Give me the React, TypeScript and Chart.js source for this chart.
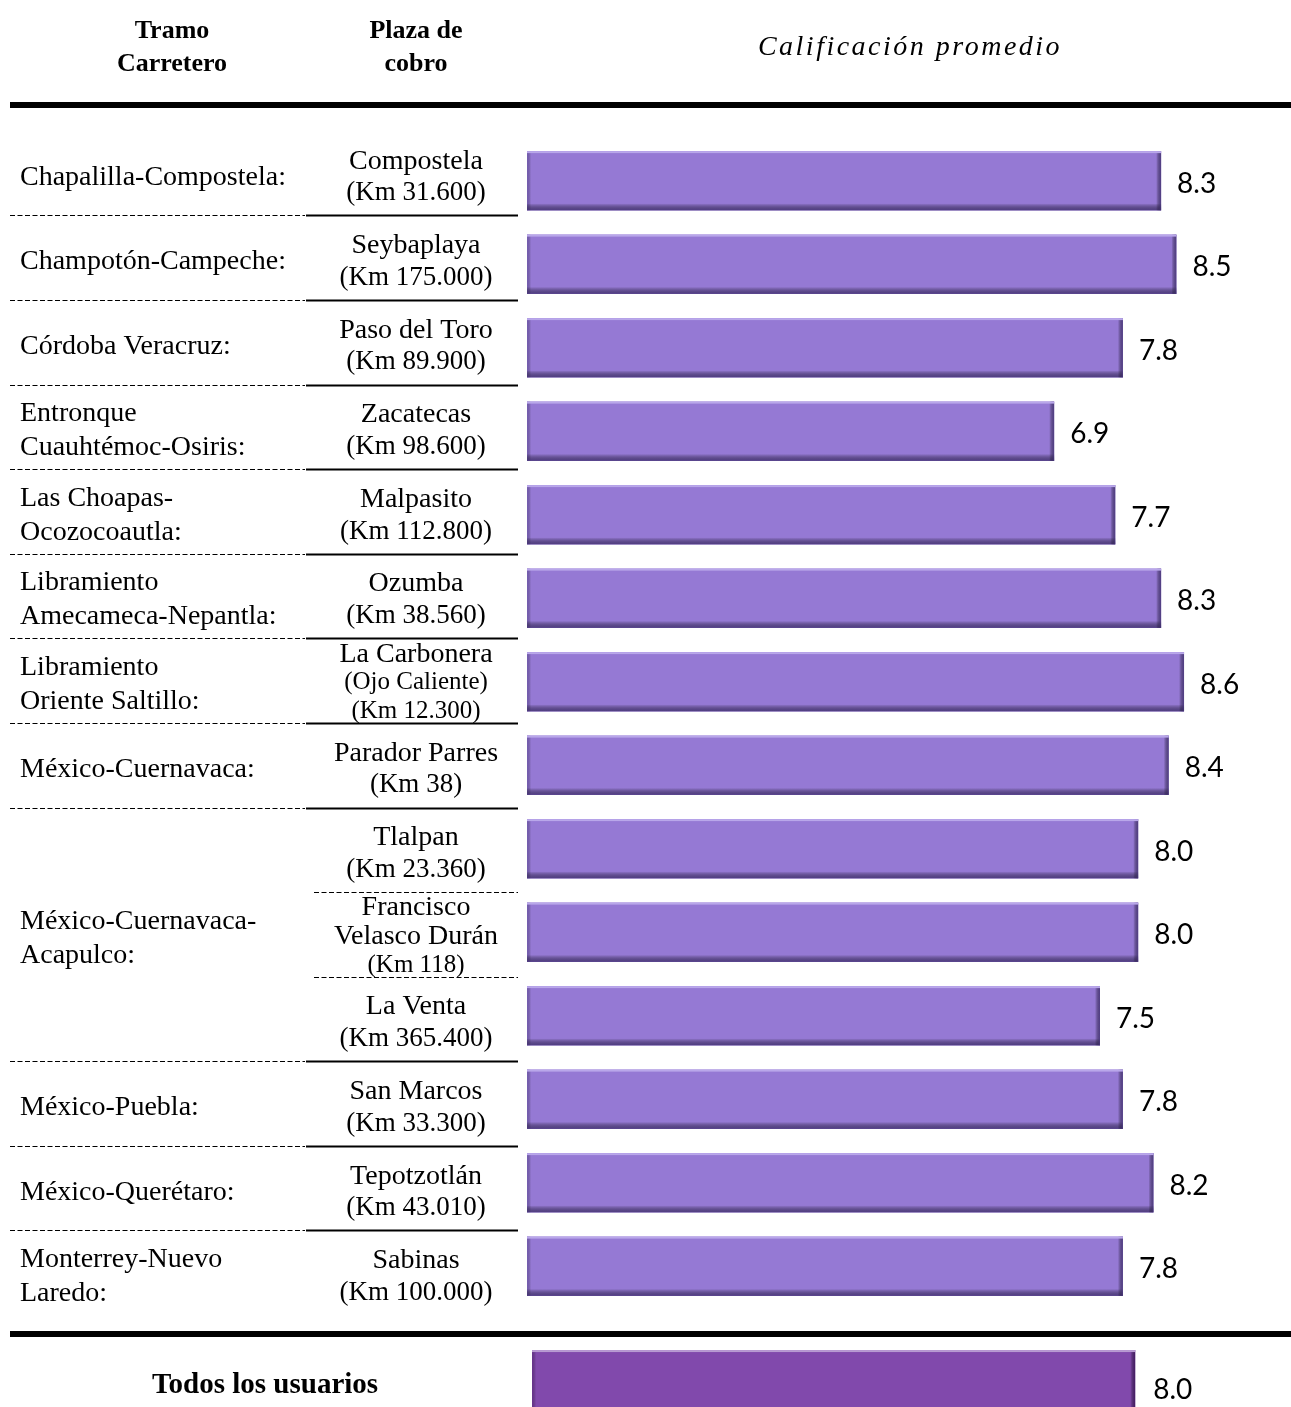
import React, { useEffect, useRef } from "react";
import { Chart, registerables } from "chart.js";

Chart.register(...registerables);

// ---------- data ----------
const headerTramo = ["Tramo", "Carretero"];
const headerPlaza = ["Plaza de", "cobro"];
const headerValue = "Calificación promedio";

const tramoLabels: string[][] = [
  ["Chapalilla-Compostela:"],
  ["Champotón-Campeche:"],
  ["Córdoba Veracruz:"],
  ["Entronque", "Cuauhtémoc-Osiris:"],
  ["Las Choapas-", "Ocozocoautla:"],
  ["Libramiento", "Amecameca-Nepantla:"],
  ["Libramiento", "Oriente Saltillo:"],
  ["México-Cuernavaca:"],
  ["México-Cuernavaca-", "Acapulco:"],
  ["México-Puebla:"],
  ["México-Querétaro:"],
  ["Monterrey-Nuevo", "Laredo:"],
];
const tramoSpans = [1, 1, 1, 1, 1, 1, 1, 1, 3, 1, 1, 1];

const plazaLabels: string[][] = [
  ["Compostela", "(Km 31.600)"],
  ["Seybaplaya", "(Km 175.000)"],
  ["Paso del Toro", "(Km 89.900)"],
  ["Zacatecas", "(Km 98.600)"],
  ["Malpasito", "(Km 112.800)"],
  ["Ozumba", "(Km 38.560)"],
  ["La Carbonera", "(Ojo Caliente)", "(Km 12.300)"],
  ["Parador Parres", "(Km 38)"],
  ["Tlalpan", "(Km 23.360)"],
  ["Francisco", "Velasco Durán", "(Km 118)"],
  ["La Venta", "(Km 365.400)"],
  ["San Marcos", "(Km 33.300)"],
  ["Tepotzotlán", "(Km 43.010)"],
  ["Sabinas", "(Km 100.000)"],
];

const calificaciones = [8.3, 8.5, 7.8, 6.9, 7.7, 8.3, 8.6, 8.4, 8.0, 8.0, 7.5, 7.8, 8.2, 7.8];

const totalLabel = "Todos los usuarios";
const totalValues = [8.0];

const axisMin = 0;
const axisMax = 10;

// ---------- styles ----------
const SERIF = '"Liberation Serif", "Times New Roman", serif';
const SANS = 'Lato, "Open Sans", sans-serif';
const BAR_FILL = "#9579d4";
const TOTAL_FILL = "#8149ac";

function drawBevel(ctx: CanvasRenderingContext2D, el: any, light: string, dark: string, darker: string) {
  const p = el.getProps(["x", "y", "base", "height"], true);
  const left = Math.min(p.base, p.x);
  const right = Math.max(p.base, p.x);
  const top = p.y - p.height / 2;
  const bottom = p.y + p.height / 2;
  const w = right - left;
  const h = bottom - top;
  ctx.save();
  let g = ctx.createLinearGradient(left, 0, left + 4, 0);
  g.addColorStop(0, dark);
  g.addColorStop(1, "rgba(0,0,0,0)");
  ctx.fillStyle = g;
  ctx.fillRect(left, top, 4, h);
  g = ctx.createLinearGradient(0, bottom - 7, 0, bottom);
  g.addColorStop(0, "rgba(0,0,0,0)");
  g.addColorStop(1, darker);
  ctx.fillStyle = g;
  ctx.fillRect(left, bottom - 7, w, 7);
  g = ctx.createLinearGradient(right - 5, 0, right, 0);
  g.addColorStop(0, "rgba(0,0,0,0)");
  g.addColorStop(1, darker);
  ctx.fillStyle = g;
  ctx.fillRect(right - 5, top, 5, h);
  ctx.fillStyle = light;
  ctx.fillRect(left, top, w, 2);
  ctx.restore();
}

function drift(k: number) {
  return -8.1 + 1.083 * k;
}

const mainPlugin = {
  id: "tablePlugin",
  afterDatasetsDraw(chart: any) {
    const ctx: CanvasRenderingContext2D = chart.ctx;
    const yScale = chart.scales.y;
    const meta = chart.getDatasetMeta(0);
    const n = calificaciones.length;
    const pitch = n > 1 ? yScale.getPixelForValue(1) - yScale.getPixelForValue(0) : 80;
    const boundary = (k: number) => yScale.getPixelForValue(0) - pitch / 2 + k * pitch + drift(k);

    meta.data.forEach((el: any) => drawBevel(ctx, el, "#b9a7ea", "rgba(90,70,150,0.55)", "rgba(70,52,120,0.85)"));

    ctx.save();
    ctx.fillStyle = "#000";
    ctx.textAlign = "center";
    ctx.textBaseline = "middle";
    ctx.font = `bold 26px ${SERIF}`;
    headerTramo.forEach((t, i) => ctx.fillText(t, 172, 31 + i * 33));
    headerPlaza.forEach((t, i) => ctx.fillText(t, 416, 31 + i * 33));
    ctx.font = `italic 28px ${SERIF}`;
    (ctx as any).letterSpacing = "2.5px";
    ctx.fillText(headerValue, 910, 48);
    (ctx as any).letterSpacing = "0px";

    ctx.fillRect(10, 102, 1281, 6);
    ctx.fillRect(10, 1331, 1281, 6);

    ctx.textAlign = "left";
    ctx.font = `28px ${SERIF}`;
    let row = 0;
    const groupEnds: number[] = [];
    tramoLabels.forEach((lines, gi) => {
      const span = tramoSpans[gi];
      const c = (boundary(row) + boundary(row + span)) / 2;
      const sp = 34;
      lines.forEach((t, li) => {
        ctx.fillText(t, 20, c + (li - (lines.length - 1) / 2) * sp + 4);
      });
      row += span;
      groupEnds.push(row);
    });

    ctx.textAlign = "center";
    plazaLabels.forEach((lines, r) => {
      const c = (boundary(r) + boundary(r + 1)) / 2;
      const three = lines.length > 2;
      const sp = three ? 28.5 : 32;
      lines.forEach((t, li) => {
        const sub = t.startsWith("(");
        ctx.font = sub ? (three ? `25px ${SERIF}` : `27px ${SERIF}`) : `28px ${SERIF}`;
        ctx.fillText(t, 416, c + (li - (lines.length - 1) / 2) * sp + (three ? 2 : 4));
      });
    });

    for (let k = 1; k < n; k++) {
      const y = Math.round(boundary(k)) + 0.5;
      const isGroup = groupEnds.includes(k);
      ctx.strokeStyle = "#000";
      if (isGroup) {
        ctx.lineWidth = 1.2;
        ctx.setLineDash([5, 2.5]);
        ctx.beginPath();
        ctx.moveTo(10, y);
        ctx.lineTo(305, y);
        ctx.stroke();
        ctx.setLineDash([]);
        ctx.lineWidth = 2;
        ctx.beginPath();
        ctx.moveTo(306, y);
        ctx.lineTo(518, y);
        ctx.stroke();
      } else {
        ctx.lineWidth = 1.2;
        ctx.setLineDash([5, 2.5]);
        ctx.beginPath();
        ctx.moveTo(314, y);
        ctx.lineTo(518, y);
        ctx.stroke();
        ctx.setLineDash([]);
      }
    }

    ctx.textAlign = "left";
    ctx.font = `28px ${SANS}`;
    meta.data.forEach((el: any, i: number) => {
      const p = el.getProps(["x", "y"], true);
      ctx.fillText(calificaciones[i].toFixed(1), p.x + 16, p.y + 3);
    });
    ctx.restore();
  },
};

const totalPlugin = {
  id: "totalPlugin",
  afterDatasetsDraw(chart: any) {
    const ctx: CanvasRenderingContext2D = chart.ctx;
    const meta = chart.getDatasetMeta(0);
    meta.data.forEach((el: any) => drawBevel(ctx, el, "#b89ad2", "rgba(80,30,110,0.5)", "rgba(60,20,90,0.85)"));
    ctx.save();
    ctx.fillStyle = "#000";
    meta.data.forEach((el: any, i: number) => {
      const p = el.getProps(["x", "y"], true);
      ctx.textAlign = "center";
      ctx.textBaseline = "middle";
      ctx.font = `bold 29px ${SERIF}`;
      ctx.fillText(totalLabel, 265, p.y + 4);
      ctx.textAlign = "left";
      ctx.font = `28px ${SANS}`;
      ctx.fillText(totalValues[i].toFixed(1), p.x + 18, p.y + 8);
    });
    ctx.restore();
  },
};

export default function App() {
  const mainRef = useRef<HTMLCanvasElement>(null);
  const totalRef = useRef<HTMLCanvasElement>(null);

  useEffect(() => {
    document.body.style.margin = "0";
    document.body.style.background = "#fff";
    const main = new Chart(mainRef.current!, {
      type: "bar",
      data: {
        labels: plazaLabels.map((l) => l[0]),
        datasets: [
          {
            data: calificaciones,
            backgroundColor: BAR_FILL,
            borderWidth: 0,
            barPercentage: 0.71,
            categoryPercentage: 1,
          },
        ],
      },
      options: {
        indexAxis: "y",
        responsive: false,
        maintainAspectRatio: false,
        animation: false,
        layout: { padding: { left: 527, right: 0, top: 139, bottom: 29 } },
        plugins: { legend: { display: false }, tooltip: { enabled: false } },
        scales: {
          x: { type: "linear", min: axisMin, max: axisMax, display: false },
          y: { type: "category", display: false },
        },
      },
      plugins: [mainPlugin],
    });
    const total = new Chart(totalRef.current!, {
      type: "bar",
      data: {
        labels: [totalLabel],
        datasets: [
          {
            data: totalValues,
            backgroundColor: TOTAL_FILL,
            borderWidth: 0,
            barPercentage: 0.71,
            categoryPercentage: 1,
          },
        ],
      },
      options: {
        indexAxis: "y",
        responsive: false,
        maintainAspectRatio: false,
        animation: false,
        layout: { padding: { left: 532, right: 5, top: 0, bottom: 0 } },
        plugins: { legend: { display: false }, tooltip: { enabled: false } },
        scales: {
          x: { type: "linear", min: axisMin, max: axisMax, display: false },
          y: { type: "category", display: false },
        },
      },
      plugins: [totalPlugin],
    });
    return () => {
      main.destroy();
      total.destroy();
    };
  }, []);

  return (
    <div style={{ position: "absolute", left: 0, top: 0, width: 1291, height: 1407, overflow: "hidden", background: "#fff" }}>
      <canvas ref={mainRef} width={1291} height={1337} style={{ position: "absolute", left: 0, top: 0 }} />
      <canvas ref={totalRef} width={1291} height={90} style={{ position: "absolute", left: 0, top: 1337 }} />
    </div>
  );
}
